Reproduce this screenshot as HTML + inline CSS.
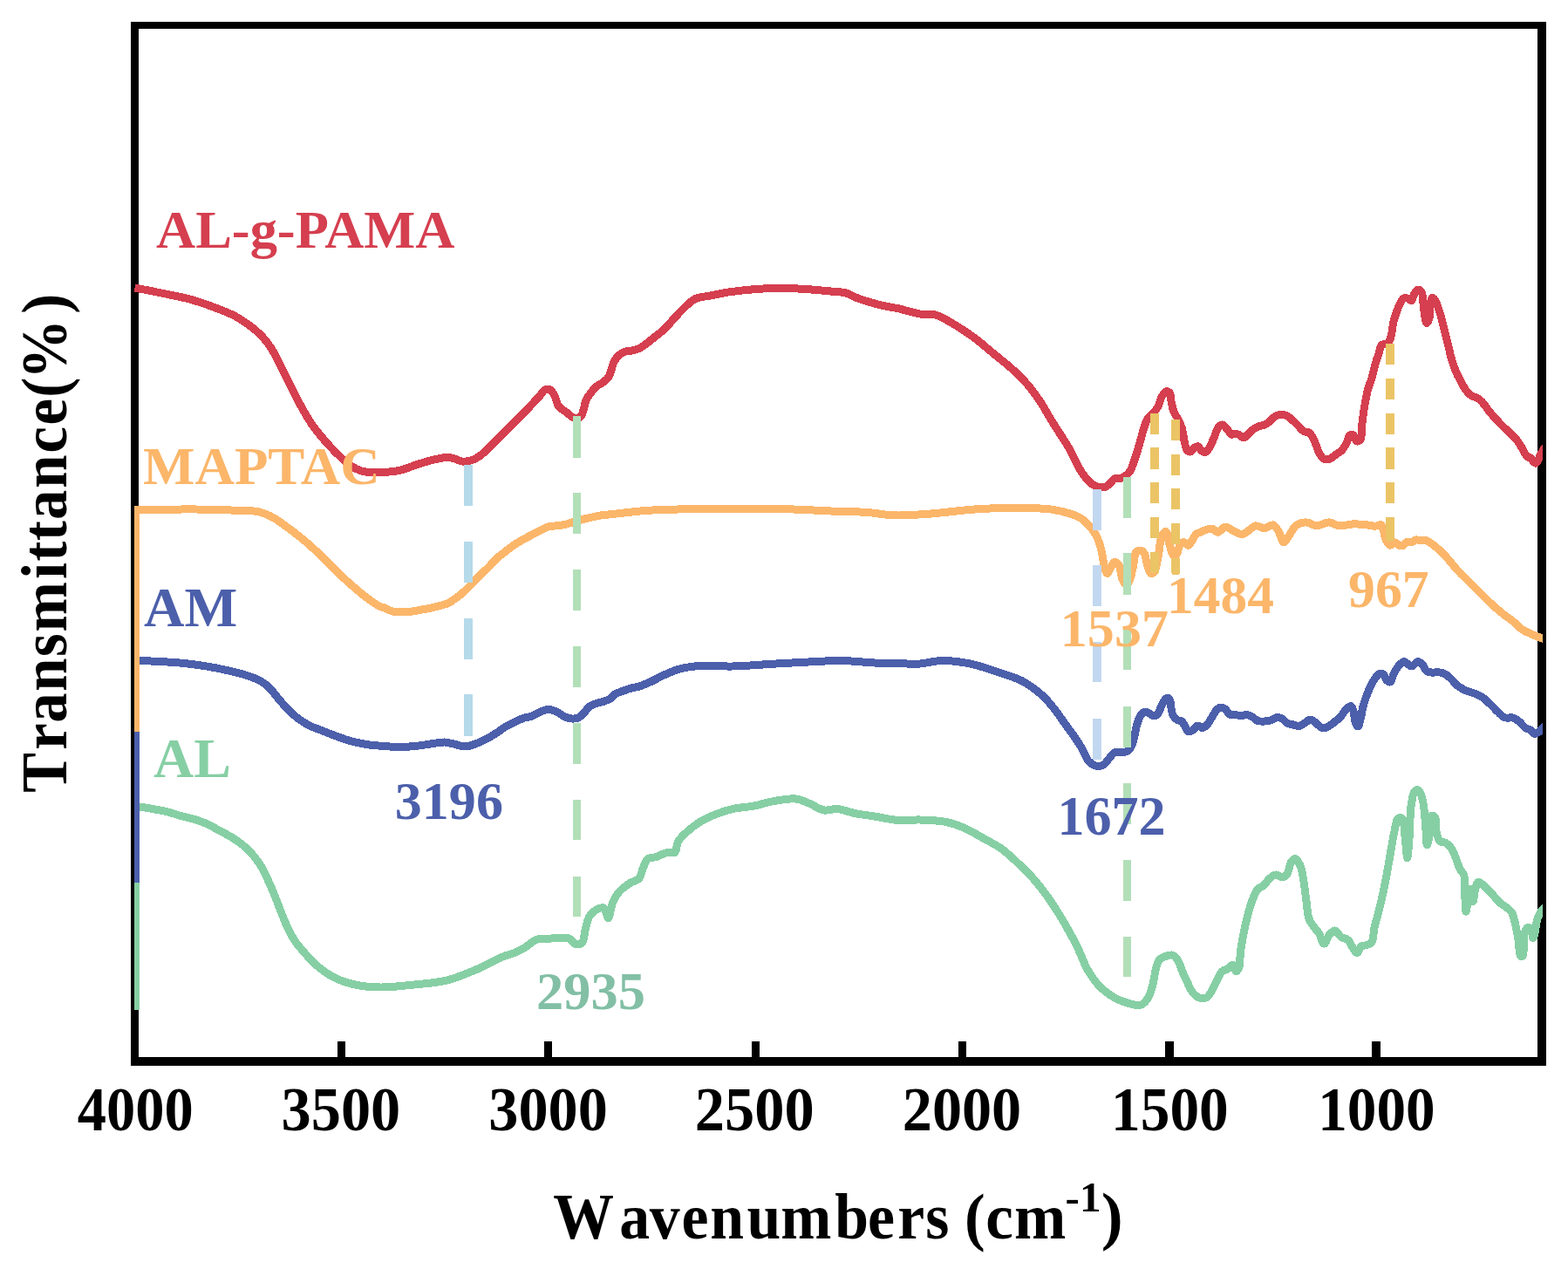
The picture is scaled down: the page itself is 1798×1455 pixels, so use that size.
<!DOCTYPE html>
<html><head><meta charset="utf-8"><title>FTIR spectra</title>
<style>html,body{margin:0;padding:0;background:#fff;width:1798px;height:1455px;overflow:hidden}svg{display:block}</style>
</head><body>
<svg width="1798" height="1455" viewBox="0 0 1798 1455">
<rect width="1798" height="1455" fill="#fff"/>
<defs><clipPath id="cp"><rect x="154" y="29" width="1615" height="1188"/></clipPath></defs>
<g fill="#000" shape-rendering="crispEdges">
<rect x="150" y="25" width="9" height="1197"/>
<rect x="150" y="25" width="1623" height="8"/>
<rect x="1763" y="25" width="10" height="1197"/>
<rect x="150" y="1212" width="1623" height="10"/>
<rect x="387" y="1194" width="9" height="18"/>
<rect x="624" y="1194" width="9" height="18"/>
<rect x="862" y="1194" width="9" height="18"/>
<rect x="1099" y="1194" width="9" height="18"/>
<rect x="1336" y="1194" width="10" height="18"/>
<rect x="1573" y="1194" width="10" height="18"/>
</g>
<g clip-path="url(#cp)" fill="none" stroke-width="9" stroke-linejoin="round" stroke-linecap="butt" shape-rendering="crispEdges">
<path d="M155.6,1158 L155.6,925 L155.60,925.00 C155.60,925.00 157.78,924.86 159.50,925.00 C162.96,925.28 169.75,926.56 175.00,927.50 C180.47,928.48 186.17,929.43 191.70,930.80 C197.28,932.19 202.74,934.26 208.30,935.80 C213.84,937.33 219.49,938.21 225.00,940.00 C230.63,941.83 237.16,944.47 241.70,946.70 C245.02,948.33 247.01,949.95 250.00,951.60 C253.39,953.47 257.37,955.24 261.00,957.30 C264.71,959.40 268.41,961.57 272.00,964.10 C275.75,966.74 279.47,969.55 283.00,972.90 C286.83,976.54 290.87,981.21 294.00,985.30 C296.75,988.90 298.79,992.08 301.00,996.00 C303.48,1000.39 305.73,1005.51 308.00,1010.50 C310.37,1015.72 312.61,1021.09 314.90,1026.70 C317.34,1032.69 319.74,1039.29 322.20,1045.40 C324.58,1051.32 326.73,1057.21 329.40,1062.80 C332.01,1068.27 334.56,1073.48 338.00,1078.60 C341.68,1084.07 346.42,1089.44 351.00,1094.50 C355.56,1099.54 360.40,1104.71 365.40,1108.90 C370.06,1112.80 374.94,1116.19 379.90,1119.00 C384.59,1121.66 388.92,1123.67 394.30,1125.50 C400.68,1127.67 408.65,1129.52 415.90,1130.60 C423.08,1131.67 429.39,1132.06 437.60,1132.00 C448.38,1131.92 462.54,1130.33 475.00,1129.00 C487.51,1127.67 500.17,1127.08 512.50,1124.00 C525.18,1120.83 538.88,1114.84 550.00,1110.00 C559.29,1105.95 567.63,1100.55 575.00,1097.50 C580.54,1095.20 585.30,1094.49 590.00,1092.50 C594.44,1090.62 598.40,1088.45 602.50,1086.00 C606.74,1083.47 610.23,1079.19 615.00,1077.50 C620.14,1075.68 626.47,1076.26 632.50,1076.00 C638.94,1075.72 647.66,1074.20 652.50,1076.00 C655.91,1077.27 657.31,1081.79 660.00,1082.50 C662.36,1083.12 665.67,1082.77 667.50,1081.00 C670.19,1078.40 669.77,1070.21 671.25,1065.00 C672.70,1059.89 673.64,1053.88 676.25,1050.00 C678.48,1046.69 682.00,1043.96 685.00,1042.50 C687.44,1041.31 690.53,1039.97 692.50,1041.00 C695.03,1042.32 695.96,1052.60 697.50,1052.50 C699.35,1052.38 700.24,1040.21 702.50,1035.00 C704.52,1030.34 706.78,1026.19 710.00,1022.50 C713.38,1018.64 718.43,1015.10 722.50,1012.50 C725.90,1010.32 730.03,1010.18 732.50,1007.50 C735.21,1004.56 735.75,998.90 737.50,995.00 C739.10,991.45 739.91,987.08 742.50,985.00 C744.98,983.01 749.02,983.63 752.50,982.50 C756.48,981.21 761.14,978.24 765.00,977.50 C768.11,976.90 771.69,979.04 773.75,977.50 C776.27,975.62 775.34,968.81 777.50,965.00 C779.80,960.93 783.65,957.54 787.50,954.00 C791.84,950.01 797.13,945.82 802.50,942.50 C807.95,939.13 813.88,936.47 820.00,934.00 C826.36,931.44 832.89,929.14 840.00,927.50 C847.80,925.70 857.17,925.52 865.00,924.00 C872.08,922.62 877.76,920.29 885.00,919.00 C893.39,917.50 904.79,915.18 912.50,916.00 C918.33,916.62 922.36,918.98 927.50,921.00 C933.17,923.23 939.26,928.05 945.00,929.00 C950.08,929.84 954.68,927.11 960.00,927.50 C966.22,927.95 973.10,931.10 980.00,932.50 C987.25,933.97 994.63,934.74 1002.50,936.00 C1011.21,937.39 1021.02,939.86 1030.00,940.50 C1038.50,941.11 1046.29,939.73 1055.00,940.00 C1064.55,940.30 1076.10,940.71 1085.00,942.50 C1092.44,944.00 1098.10,946.04 1105.00,949.00 C1113.02,952.43 1122.43,958.29 1130.00,962.50 C1136.38,966.04 1141.85,968.52 1147.50,972.50 C1153.54,976.76 1159.08,982.02 1165.00,987.50 C1171.56,993.57 1178.76,1000.43 1185.00,1007.50 C1191.26,1014.60 1196.85,1021.98 1202.50,1030.00 C1208.54,1038.57 1214.54,1048.24 1220.00,1057.50 C1225.36,1066.58 1230.38,1075.75 1235.00,1085.00 C1239.53,1094.08 1242.64,1104.30 1247.50,1112.50 C1251.92,1119.96 1256.83,1126.96 1262.50,1132.50 C1267.76,1137.64 1274.04,1141.86 1280.00,1145.00 C1285.37,1147.83 1291.42,1149.74 1296.40,1151.00 C1300.37,1152.00 1304.37,1153.31 1307.40,1152.60 C1309.90,1152.01 1311.82,1150.24 1313.60,1148.30 C1315.65,1146.07 1317.21,1142.85 1318.60,1139.60 C1320.18,1135.91 1321.22,1131.63 1322.30,1127.20 C1323.52,1122.21 1324.02,1115.91 1325.40,1111.10 C1326.58,1107.00 1327.43,1102.49 1329.70,1100.00 C1331.59,1097.92 1334.57,1097.12 1337.10,1096.30 C1339.51,1095.52 1342.30,1094.40 1344.50,1095.10 C1346.87,1095.86 1348.96,1098.59 1350.70,1101.20 C1352.86,1104.44 1353.89,1109.39 1355.70,1113.60 C1357.61,1118.05 1359.76,1122.92 1361.90,1127.20 C1363.87,1131.15 1365.37,1135.45 1368.00,1138.40 C1370.40,1141.09 1373.78,1143.83 1376.70,1144.50 C1379.15,1145.06 1381.97,1144.63 1384.10,1143.30 C1386.64,1141.72 1388.35,1137.83 1390.30,1134.60 C1392.52,1130.93 1394.51,1126.03 1396.50,1122.30 C1398.19,1119.13 1399.28,1115.47 1401.40,1113.60 C1403.14,1112.07 1405.61,1112.25 1407.60,1111.10 C1409.76,1109.85 1412.16,1105.83 1413.80,1106.20 C1415.48,1106.57 1416.20,1113.45 1417.50,1113.60 C1418.49,1113.72 1419.81,1111.78 1420.60,1109.90 C1422.16,1106.20 1421.63,1097.76 1422.50,1091.30 C1423.45,1084.21 1424.75,1076.38 1426.20,1069.10 C1427.62,1061.95 1429.33,1054.52 1431.10,1048.00 C1432.66,1042.27 1434.12,1036.92 1436.10,1032.00 C1437.90,1027.53 1439.67,1022.59 1442.30,1019.60 C1444.41,1017.20 1447.47,1016.61 1449.70,1014.60 C1452.02,1012.51 1453.55,1009.18 1455.90,1007.20 C1458.11,1005.34 1460.79,1003.06 1463.30,1002.90 C1465.73,1002.74 1468.51,1006.28 1470.70,1006.00 C1472.69,1005.75 1474.53,1004.05 1476.00,1002.00 C1478.17,998.98 1478.57,991.29 1480.60,988.30 C1481.90,986.39 1483.59,984.32 1485.10,984.50 C1487.11,984.74 1489.63,989.36 1491.20,992.90 C1493.29,997.62 1493.91,1004.60 1495.00,1011.00 C1496.22,1018.12 1496.96,1026.41 1498.00,1033.70 C1498.97,1040.50 1499.16,1048.24 1501.00,1053.40 C1502.33,1057.14 1504.36,1059.59 1506.30,1062.40 C1508.17,1065.11 1510.52,1067.06 1512.40,1070.00 C1514.61,1073.47 1516.33,1082.04 1518.40,1082.10 C1520.37,1082.16 1522.17,1074.13 1524.50,1071.50 C1526.32,1069.44 1528.44,1066.86 1530.50,1067.00 C1532.95,1067.17 1535.39,1072.70 1538.10,1074.50 C1540.46,1076.07 1543.60,1075.90 1545.60,1077.60 C1547.68,1079.37 1548.48,1082.64 1550.20,1085.10 C1552.00,1087.68 1554.40,1092.81 1556.20,1092.70 C1557.92,1092.59 1558.80,1086.58 1560.80,1085.10 C1562.47,1083.87 1564.83,1084.32 1566.80,1083.60 C1568.87,1082.84 1571.41,1082.58 1572.90,1080.60 C1575.25,1077.49 1574.58,1069.94 1575.90,1064.00 C1577.46,1057.00 1579.97,1049.24 1581.90,1041.30 C1584.01,1032.64 1586.07,1023.57 1588.00,1014.00 C1590.12,1003.49 1592.14,991.17 1594.00,980.80 C1595.64,971.66 1596.89,962.62 1598.60,955.00 C1599.98,948.83 1600.65,940.27 1603.10,938.40 C1604.35,937.44 1606.39,937.36 1607.60,938.40 C1610.43,940.82 1610.36,954.79 1611.40,962.60 C1612.37,969.89 1612.95,983.80 1613.70,983.80 C1614.48,983.80 1615.32,969.63 1616.00,961.10 C1616.88,950.11 1616.55,933.29 1618.20,923.30 C1619.31,916.54 1620.33,908.48 1622.80,906.60 C1624.06,905.64 1626.03,905.69 1627.30,906.60 C1629.57,908.24 1630.71,914.76 1631.90,920.30 C1633.62,928.33 1634.10,941.70 1634.90,950.50 C1635.52,957.33 1635.51,968.63 1636.40,968.70 C1637.13,968.76 1638.67,961.23 1639.40,956.60 C1640.36,950.55 1638.56,936.97 1640.90,935.40 C1642.02,934.65 1644.41,935.52 1645.50,936.90 C1647.56,939.49 1645.75,949.00 1647.00,954.00 C1648.04,958.19 1649.43,963.24 1651.70,965.10 C1653.29,966.40 1655.68,965.38 1657.50,966.30 C1659.61,967.37 1661.63,969.28 1663.40,971.60 C1665.66,974.56 1667.47,979.18 1669.20,983.20 C1670.98,987.34 1672.09,992.54 1673.90,996.10 C1675.32,998.89 1677.56,1000.02 1678.60,1003.10 C1680.14,1007.68 1679.34,1015.22 1679.70,1021.80 C1680.11,1029.16 1680.11,1045.14 1680.90,1045.20 C1681.47,1045.24 1682.45,1037.58 1683.20,1033.50 C1684.02,1029.05 1684.62,1019.54 1685.60,1019.50 C1686.59,1019.46 1688.12,1033.53 1689.10,1033.50 C1690.04,1033.47 1690.33,1024.50 1691.40,1020.60 C1692.33,1017.20 1693.08,1011.94 1694.90,1011.30 C1696.41,1010.77 1698.72,1013.18 1700.80,1014.80 C1703.68,1017.04 1707.04,1020.85 1710.10,1024.10 C1713.28,1027.47 1716.32,1031.83 1719.50,1034.70 C1722.17,1037.10 1725.18,1038.47 1727.60,1040.50 C1729.80,1042.35 1731.98,1043.85 1733.50,1046.30 C1735.27,1049.14 1735.94,1052.89 1737.00,1056.90 C1738.34,1061.97 1739.39,1068.21 1740.50,1074.40 C1741.74,1081.35 1742.02,1095.60 1744.00,1096.60 C1744.67,1096.94 1745.70,1096.33 1746.30,1095.40 C1748.02,1092.74 1746.40,1080.14 1747.50,1074.40 C1748.30,1070.24 1749.11,1064.96 1751.00,1063.90 C1752.25,1063.20 1754.56,1063.84 1755.70,1065.00 C1757.42,1066.74 1757.16,1075.57 1758.00,1075.60 C1758.74,1075.63 1759.68,1070.46 1760.40,1067.40 C1761.29,1063.61 1761.58,1058.26 1762.70,1054.50 C1763.63,1051.40 1765.04,1048.42 1766.20,1046.30 C1767.00,1044.84 1767.65,1043.84 1768.60,1042.80 C1769.57,1041.74 1772.00,1040.00 1772.00,1040.00" stroke="#86CFA4"/>
<path d="M155.6,1012 L155.6,757.5 L155.60,757.50 C155.60,757.50 157.52,757.45 159.50,757.50 C165.90,757.66 188.87,758.67 200.00,759.50 C207.84,760.09 213.34,760.67 220.00,761.50 C226.68,762.33 233.35,763.34 240.00,764.50 C246.68,765.67 253.35,767.00 260.00,768.50 C266.68,770.00 273.86,771.61 280.00,773.50 C285.41,775.16 290.59,776.89 295.00,779.00 C298.77,780.80 302.08,782.72 305.00,785.00 C307.69,787.10 309.66,789.39 312.00,792.00 C314.66,794.97 317.13,798.63 320.00,802.00 C323.09,805.63 326.43,809.41 330.00,813.00 C333.74,816.75 337.76,820.80 342.00,824.00 C346.11,827.10 350.41,829.69 355.00,832.00 C359.73,834.38 365.51,836.20 370.00,838.00 C373.67,839.47 376.08,840.53 380.00,842.00 C385.50,844.06 393.28,847.07 400.00,849.00 C406.61,850.89 413.30,852.42 420.00,853.50 C426.63,854.57 433.33,855.00 440.00,855.50 C446.66,856.00 453.34,856.58 460.00,856.50 C466.67,856.42 473.35,855.75 480.00,855.00 C486.68,854.25 494.47,852.69 500.00,852.00 C503.90,851.51 506.68,850.84 510.00,851.00 C513.35,851.16 516.39,852.25 520.00,853.00 C524.28,853.89 529.63,856.12 534.00,856.00 C537.90,855.89 541.11,854.42 545.00,853.00 C549.68,851.28 555.56,848.36 560.00,846.00 C563.73,844.02 566.70,842.14 570.00,840.00 C573.37,837.81 576.59,835.03 580.00,833.00 C583.26,831.06 586.65,829.59 590.00,828.00 C593.32,826.43 596.61,824.67 600.00,823.50 C603.28,822.36 606.73,822.21 610.00,821.00 C613.40,819.74 616.69,817.27 620.00,816.00 C623.02,814.84 626.00,813.50 629.00,813.50 C632.00,813.50 635.01,814.71 638.00,816.00 C641.34,817.44 644.75,820.66 648.00,822.00 C650.73,823.13 653.41,823.87 656.00,824.00 C658.40,824.12 660.80,824.00 663.00,823.00 C665.51,821.86 667.83,819.17 670.00,817.00 C672.17,814.83 673.62,811.76 676.00,810.00 C678.31,808.29 681.22,807.49 684.00,806.50 C686.88,805.48 690.22,804.98 693.00,804.00 C695.51,803.12 697.97,802.37 700.00,801.00 C701.95,799.68 702.87,797.40 705.00,796.00 C707.63,794.27 711.74,793.20 715.00,792.00 C718.06,790.88 720.98,789.84 724.00,789.00 C726.98,788.17 729.73,788.02 733.00,787.00 C737.14,785.70 742.03,783.52 746.70,781.40 C751.77,779.10 757.05,775.95 762.30,773.60 C767.45,771.29 772.63,768.96 777.90,767.40 C783.03,765.88 788.20,764.95 793.50,764.30 C798.90,763.64 803.68,763.60 810.00,763.50 C818.51,763.36 828.74,764.24 840.00,764.00 C854.55,763.69 874.53,761.88 890.00,761.00 C903.40,760.24 915.00,759.58 927.50,759.00 C940.00,758.42 952.50,757.33 965.00,757.50 C977.50,757.67 990.04,759.42 1002.50,760.00 C1014.87,760.58 1029.81,760.87 1039.50,761.00 C1045.77,761.08 1049.23,761.40 1055.00,761.00 C1062.36,760.49 1071.11,757.64 1080.00,757.50 C1090.11,757.34 1101.98,758.87 1112.50,761.00 C1122.80,763.08 1132.55,766.69 1142.50,770.00 C1152.55,773.35 1163.77,776.44 1172.50,781.00 C1180.13,784.98 1187.55,790.93 1192.50,795.00 C1195.73,797.65 1197.34,799.34 1200.00,802.20 C1203.44,805.90 1207.48,810.89 1211.10,815.60 C1214.89,820.54 1218.48,826.02 1222.20,831.20 C1225.92,836.38 1229.97,841.56 1233.40,846.70 C1236.64,851.55 1239.77,856.63 1242.30,861.20 C1244.45,865.10 1245.16,869.42 1247.80,872.30 C1250.37,875.10 1254.57,877.84 1257.80,878.40 C1260.47,878.87 1263.30,878.15 1265.60,876.80 C1268.22,875.26 1270.15,871.42 1272.30,869.00 C1274.23,866.82 1275.54,863.93 1277.90,862.90 C1280.34,861.83 1283.98,863.40 1286.80,862.90 C1289.50,862.42 1292.51,861.87 1294.50,860.10 C1296.70,858.15 1297.65,854.90 1299.00,851.20 C1300.99,845.73 1302.20,835.70 1304.00,830.00 C1305.27,825.99 1306.20,822.43 1308.00,820.00 C1309.39,818.13 1311.25,816.26 1313.00,816.00 C1314.60,815.76 1316.37,817.19 1318.00,818.00 C1319.70,818.84 1321.33,821.00 1323.00,821.00 C1324.67,821.00 1326.61,819.57 1328.00,818.00 C1329.80,815.96 1330.43,811.90 1332.00,809.00 C1333.59,806.06 1335.60,801.21 1337.50,800.50 C1338.64,800.07 1340.12,800.54 1341.00,801.50 C1342.51,803.15 1342.28,808.75 1343.00,812.00 C1343.63,814.86 1343.77,817.71 1345.00,820.00 C1346.16,822.17 1348.16,824.34 1350.00,825.50 C1351.54,826.47 1353.58,825.95 1355.00,827.00 C1356.67,828.24 1357.67,831.00 1359.00,833.00 C1360.33,835.00 1361.35,838.49 1363.00,839.00 C1364.43,839.44 1366.43,838.03 1368.00,837.00 C1369.80,835.82 1371.12,832.37 1373.00,832.00 C1374.80,831.64 1377.14,834.70 1379.00,834.50 C1380.80,834.30 1382.40,832.63 1384.00,831.00 C1386.12,828.83 1388.11,824.93 1390.00,822.00 C1391.76,819.27 1393.08,815.89 1395.00,814.00 C1396.51,812.52 1398.30,811.14 1400.00,811.00 C1401.63,810.87 1403.46,811.88 1405.00,813.00 C1406.85,814.35 1408.01,817.96 1410.00,819.00 C1411.75,819.91 1413.93,819.27 1416.00,819.50 C1418.25,819.75 1420.67,820.50 1423.00,820.50 C1425.33,820.50 1427.79,819.22 1430.00,819.50 C1432.12,819.77 1434.07,820.90 1436.00,822.00 C1438.08,823.19 1439.72,825.66 1442.00,826.50 C1444.36,827.37 1447.43,827.10 1450.00,827.00 C1452.42,826.90 1454.72,826.71 1457.00,826.00 C1459.40,825.25 1461.71,822.75 1464.00,822.50 C1466.03,822.28 1468.10,823.04 1470.00,824.00 C1472.13,825.08 1473.79,827.83 1476.00,829.00 C1478.14,830.13 1480.66,830.41 1483.00,831.00 C1485.32,831.58 1487.82,832.85 1490.00,832.50 C1492.15,832.16 1493.92,830.20 1496.00,829.00 C1498.24,827.71 1500.70,824.88 1503.00,825.00 C1505.37,825.12 1507.67,828.33 1510.00,830.00 C1512.33,831.67 1514.67,834.65 1517.00,835.00 C1519.00,835.30 1521.00,834.02 1523.00,833.00 C1525.33,831.81 1527.71,829.80 1530.00,828.00 C1532.38,826.14 1534.87,824.27 1537.00,822.00 C1539.22,819.63 1540.83,816.17 1543.00,814.00 C1544.88,812.12 1547.47,809.17 1549.00,809.50 C1550.40,809.80 1551.22,812.69 1552.00,815.00 C1553.13,818.34 1552.83,824.77 1554.00,828.00 C1554.78,830.15 1556.08,833.08 1557.00,833.00 C1558.12,832.90 1559.11,828.12 1560.00,825.00 C1561.19,820.82 1561.76,814.69 1563.00,810.00 C1564.13,805.74 1565.61,801.80 1567.00,798.00 C1568.28,794.50 1569.48,791.20 1571.00,788.00 C1572.49,784.87 1574.08,781.66 1576.00,779.00 C1577.78,776.54 1580.01,773.23 1582.00,772.50 C1583.34,772.01 1584.83,772.22 1586.00,773.00 C1587.66,774.10 1588.40,778.49 1590.00,780.00 C1591.19,781.12 1592.84,782.42 1594.00,782.00 C1595.72,781.38 1596.50,775.92 1598.00,773.00 C1599.50,770.08 1600.95,766.94 1603.00,764.50 C1604.98,762.14 1607.82,758.61 1610.00,758.50 C1611.77,758.41 1613.39,761.04 1615.00,762.00 C1616.38,762.82 1617.58,764.17 1619.00,764.00 C1620.93,763.77 1623.20,758.95 1625.30,758.70 C1627.10,758.49 1629.08,759.96 1630.70,761.40 C1632.75,763.21 1633.82,767.82 1636.00,769.40 C1637.79,770.69 1640.04,770.87 1642.20,771.10 C1644.49,771.34 1646.96,770.44 1649.40,770.70 C1652.02,770.98 1654.95,771.58 1657.40,772.90 C1660.01,774.30 1662.17,776.91 1664.50,779.10 C1666.91,781.37 1668.95,784.23 1671.60,786.30 C1674.28,788.40 1677.31,790.14 1680.50,791.60 C1683.83,793.13 1687.84,793.81 1691.20,795.20 C1694.35,796.50 1697.26,797.67 1700.10,799.60 C1703.22,801.71 1706.07,804.82 1709.00,807.60 C1712.01,810.45 1715.06,813.84 1717.90,816.50 C1720.36,818.80 1722.16,821.56 1725.00,822.70 C1728.03,823.92 1732.62,822.16 1735.70,823.20 C1738.46,824.13 1740.52,826.20 1742.80,828.10 C1745.26,830.15 1747.53,833.73 1749.90,835.20 C1751.67,836.30 1753.60,836.02 1755.20,837.00 C1756.89,838.04 1758.10,841.09 1759.70,841.40 C1761.09,841.67 1762.78,840.46 1764.10,839.60 C1765.46,838.71 1766.44,837.31 1767.70,836.10 C1769.07,834.78 1772.00,832.00 1772.00,832.00" stroke="#4C5FAB"/>
<path d="M155.6,838.5 L155.6,584.5 L155.60,584.50 C155.60,584.50 157.41,584.51 159.50,584.50 C168.07,584.47 205.85,583.83 225.00,584.00 C239.97,584.13 254.87,584.70 265.00,585.00 C271.20,585.18 275.00,585.25 280.00,585.50 C285.00,585.75 290.55,585.69 295.00,586.50 C298.71,587.17 301.72,588.20 305.00,589.50 C308.39,590.85 311.41,592.36 315.00,594.50 C319.59,597.23 325.04,601.36 330.00,605.00 C335.04,608.69 340.06,612.47 345.00,616.50 C350.06,620.63 355.06,624.98 360.00,629.50 C365.06,634.14 370.02,639.10 375.00,644.00 C380.02,648.94 384.94,654.20 390.00,659.00 C394.94,663.69 399.96,668.13 405.00,672.50 C409.96,676.80 414.90,681.19 420.00,685.00 C424.90,688.66 431.25,693.15 435.00,695.00 C437.03,696.00 438.02,695.96 440.00,696.70 C442.98,697.81 447.33,700.38 451.10,701.20 C454.73,701.99 458.49,701.75 462.20,701.70 C465.93,701.65 469.69,701.37 473.40,700.90 C477.12,700.43 480.80,699.60 484.50,698.90 C488.20,698.20 491.91,697.53 495.60,696.70 C499.31,695.86 503.27,694.90 506.70,693.90 C509.71,693.02 512.67,692.31 515.10,691.10 C517.21,690.05 518.54,688.79 520.60,687.30 C523.33,685.32 526.90,682.86 530.00,680.20 C533.37,677.31 536.70,673.83 540.00,670.50 C543.37,667.10 546.62,663.37 550.00,660.00 C553.29,656.71 556.71,653.79 560.00,650.50 C563.38,647.13 566.56,643.16 570.00,640.00 C573.24,637.03 576.65,634.60 580.00,632.00 C583.31,629.43 586.61,626.78 590.00,624.50 C593.28,622.30 596.64,620.40 600.00,618.50 C603.31,616.63 606.66,614.95 610.00,613.20 C613.33,611.45 616.64,609.63 620.00,608.00 C623.31,606.40 626.59,604.36 630.00,603.50 C633.26,602.68 636.68,603.25 640.00,602.80 C643.35,602.35 646.69,601.63 650.00,600.80 C653.35,599.96 656.66,598.77 660.00,597.80 C663.33,596.83 666.65,595.84 670.00,595.00 C673.32,594.17 676.66,593.50 680.00,592.80 C683.33,592.10 686.65,591.30 690.00,590.80 C693.32,590.30 695.56,590.26 700.00,589.80 C708.89,588.88 726.87,586.47 740.00,585.50 C752.69,584.57 763.41,584.28 777.50,584.00 C795.68,583.64 818.58,584.00 840.00,584.00 C862.67,584.00 889.57,583.52 910.00,584.00 C925.93,584.37 938.33,585.42 952.50,586.00 C966.66,586.58 983.49,586.58 995.00,587.50 C1002.93,588.13 1008.80,589.41 1015.00,590.00 C1020.35,590.51 1023.87,590.96 1030.00,591.00 C1039.68,591.06 1054.12,590.03 1067.50,589.00 C1082.98,587.81 1102.01,585.08 1117.50,584.00 C1130.88,583.06 1141.60,582.57 1155.00,582.50 C1170.47,582.42 1191.27,582.19 1205.00,584.00 C1214.84,585.30 1223.72,587.76 1230.00,589.90 C1234.00,591.26 1236.49,592.23 1239.50,594.20 C1242.82,596.38 1246.08,599.57 1248.90,602.70 C1251.75,605.86 1254.44,609.43 1256.50,613.10 C1258.51,616.68 1259.95,620.50 1261.20,624.40 C1262.46,628.36 1263.10,632.37 1264.00,636.70 C1265.00,641.49 1265.63,648.14 1266.90,651.90 C1267.71,654.29 1268.66,657.47 1269.70,657.50 C1270.84,657.53 1272.11,653.07 1273.50,650.90 C1274.93,648.66 1276.49,644.54 1278.20,644.30 C1279.69,644.09 1281.72,646.10 1283.00,648.10 C1285.04,651.28 1285.20,659.42 1286.70,663.20 C1287.68,665.67 1288.57,668.39 1290.00,669.00 C1291.13,669.48 1292.93,668.96 1294.00,668.00 C1295.54,666.62 1296.10,663.07 1297.00,660.00 C1298.16,656.06 1299.02,650.75 1300.00,646.20 C1300.96,641.75 1300.86,635.31 1302.80,633.00 C1303.99,631.58 1305.98,630.89 1307.50,631.10 C1309.16,631.33 1311.09,632.94 1312.30,634.80 C1313.99,637.39 1313.87,642.45 1315.10,646.20 C1316.36,650.02 1317.87,656.78 1319.80,657.50 C1320.94,657.92 1322.50,656.97 1323.60,655.60 C1325.95,652.67 1326.92,643.24 1328.30,636.70 C1329.77,629.74 1329.92,619.73 1332.10,615.00 C1333.36,612.26 1335.50,609.03 1336.80,609.30 C1338.57,609.67 1339.20,618.04 1340.60,622.50 C1342.06,627.16 1343.24,635.51 1345.40,636.70 C1346.49,637.30 1348.05,636.74 1349.10,635.80 C1350.89,634.20 1351.14,627.86 1352.90,625.40 C1354.20,623.58 1356.02,621.61 1357.60,621.60 C1359.19,621.59 1360.88,625.56 1362.40,625.40 C1364.07,625.22 1365.60,621.79 1367.10,619.70 C1368.75,617.40 1369.92,613.64 1371.80,612.10 C1373.22,610.93 1374.88,611.00 1376.60,610.30 C1378.64,609.47 1380.88,608.03 1383.20,607.40 C1385.57,606.75 1388.46,605.97 1390.70,606.50 C1392.83,607.01 1394.32,610.35 1396.40,610.30 C1398.99,610.24 1401.94,604.26 1405.00,604.00 C1408.13,603.74 1411.62,607.57 1415.00,609.00 C1418.29,610.39 1421.44,612.92 1425.00,612.50 C1429.62,611.96 1435.36,603.57 1440.00,602.90 C1443.55,602.39 1446.70,605.95 1450.00,605.80 C1453.34,605.64 1457.19,601.24 1459.90,601.90 C1462.41,602.51 1464.08,605.98 1465.90,608.80 C1468.18,612.32 1469.63,621.48 1471.90,621.80 C1473.72,622.05 1475.85,617.51 1477.90,614.80 C1480.45,611.42 1482.33,605.55 1485.80,602.90 C1489.06,600.40 1493.80,598.90 1497.80,598.90 C1501.80,598.90 1505.64,602.81 1509.80,602.90 C1514.25,602.99 1519.25,598.81 1523.70,598.90 C1527.86,598.99 1531.37,602.47 1535.70,602.90 C1540.58,603.38 1546.28,601.07 1551.60,600.90 C1556.92,600.73 1562.99,601.43 1567.60,601.90 C1571.13,602.26 1574.05,603.27 1576.90,603.20 C1579.35,603.14 1582.10,601.04 1583.70,601.90 C1585.35,602.79 1585.65,606.17 1586.50,608.70 C1587.52,611.75 1587.76,616.12 1589.20,619.00 C1590.44,621.48 1592.26,624.88 1594.10,625.20 C1595.76,625.49 1597.85,621.75 1599.60,621.80 C1601.27,621.85 1602.79,624.53 1604.40,625.20 C1605.76,625.76 1607.23,626.30 1608.50,625.90 C1610.00,625.42 1610.97,622.47 1612.60,621.80 C1614.19,621.14 1616.32,622.23 1618.10,621.80 C1619.99,621.35 1621.64,619.36 1623.60,619.00 C1625.60,618.63 1627.96,619.57 1630.00,619.70 C1631.85,619.82 1633.28,619.17 1635.30,619.80 C1638.62,620.84 1643.45,624.65 1647.30,627.80 C1651.47,631.21 1655.40,635.48 1659.30,639.70 C1663.37,644.10 1666.71,648.85 1671.20,653.70 C1676.48,659.41 1683.22,665.62 1689.20,671.60 C1695.18,677.58 1701.21,684.08 1707.10,689.60 C1712.47,694.63 1718.00,699.45 1723.00,703.50 C1727.21,706.91 1731.25,709.41 1735.00,712.50 C1738.55,715.42 1741.34,719.01 1745.00,721.50 C1748.64,723.97 1753.07,725.69 1756.90,727.40 C1760.35,728.94 1764.11,730.40 1766.90,731.40 C1768.87,732.10 1772.00,733.00 1772.00,733.00" stroke="#FBB66A"/>
<path d="M154.50,330.00 C154.50,330.00 170.56,333.04 180.00,335.00 C191.85,337.46 207.22,340.13 220.00,343.75 C232.16,347.20 245.83,352.35 255.00,356.00 C261.11,358.43 265.09,360.03 270.00,362.70 C275.14,365.49 280.17,368.83 285.10,372.50 C290.28,376.36 295.91,380.80 300.30,385.40 C304.38,389.67 307.60,394.11 310.80,399.00 C314.16,404.14 317.05,410.16 319.90,415.60 C322.60,420.75 324.98,425.74 327.50,430.80 C330.01,435.84 332.49,440.87 335.00,445.90 C337.52,450.94 340.01,456.13 342.60,461.00 C345.08,465.68 347.62,470.23 350.20,474.60 C352.66,478.78 354.86,482.63 357.70,486.70 C360.82,491.18 364.70,495.95 368.30,500.30 C371.77,504.50 375.18,508.43 378.90,512.40 C382.74,516.50 387.03,520.82 391.00,524.50 C394.59,527.82 397.78,531.05 401.60,533.60 C405.36,536.11 409.32,538.32 413.70,539.70 C418.35,541.17 423.33,541.67 428.80,541.90 C435.26,542.17 444.26,541.23 450.00,540.60 C453.96,540.16 456.15,539.97 460.00,539.00 C465.58,537.59 473.30,534.09 480.00,532.00 C486.63,529.93 494.15,527.79 500.00,526.50 C504.48,525.51 508.40,524.57 512.00,524.50 C514.93,524.44 517.22,524.85 520.00,525.50 C523.19,526.25 526.62,528.60 530.00,529.00 C533.29,529.39 536.75,528.94 540.00,528.00 C543.43,527.01 546.81,525.18 550.00,523.00 C553.50,520.61 556.71,517.12 560.00,514.00 C563.38,510.80 566.67,507.33 570.00,504.00 C573.33,500.67 576.67,497.33 580.00,494.00 C583.33,490.67 586.67,487.33 590.00,484.00 C593.33,480.67 596.69,477.39 600.00,474.00 C603.35,470.56 606.86,466.82 610.00,463.50 C612.82,460.52 615.45,457.81 618.00,455.00 C620.44,452.32 622.48,448.14 625.00,447.00 C626.89,446.14 629.28,446.11 631.00,447.00 C633.06,448.06 634.58,451.29 636.00,454.00 C637.66,457.16 638.32,462.36 640.00,465.00 C641.17,466.83 642.46,467.74 644.00,469.00 C645.74,470.42 648.04,471.54 650.00,473.00 C652.04,474.52 653.98,476.91 656.00,478.00 C657.65,478.89 659.35,479.57 661.00,479.50 C662.68,479.43 664.72,478.78 666.00,477.50 C667.57,475.93 668.07,472.77 669.00,470.00 C670.10,466.71 670.56,462.28 672.00,459.00 C673.31,456.01 675.08,453.59 677.00,451.00 C679.04,448.25 681.41,445.20 684.00,443.00 C686.44,440.92 689.62,439.89 692.00,438.00 C694.26,436.20 696.50,434.33 698.00,432.00 C699.50,429.66 700.02,426.75 701.00,424.00 C702.03,421.10 702.62,417.72 704.00,415.00 C705.32,412.41 706.98,409.93 709.00,408.00 C710.99,406.11 713.41,404.50 716.00,403.50 C718.72,402.45 722.11,402.69 725.00,402.00 C727.77,401.34 730.50,400.67 733.00,399.50 C735.49,398.33 737.51,396.79 740.00,395.00 C743.09,392.78 746.67,389.67 750.00,387.00 C753.33,384.33 757.29,381.42 760.00,379.00 C762.01,377.20 762.86,376.23 765.00,374.00 C769.10,369.73 776.71,360.51 782.50,355.00 C787.53,350.21 791.94,345.16 797.50,342.50 C802.82,339.96 808.97,340.21 815.00,339.00 C821.44,337.71 827.16,336.17 835.00,335.00 C846.01,333.35 861.65,331.67 875.00,331.00 C888.32,330.34 901.89,330.48 915.00,331.00 C927.71,331.51 942.36,333.02 952.50,334.00 C959.44,334.67 964.49,334.53 970.00,336.00 C975.30,337.42 979.06,340.38 985.00,342.50 C993.21,345.43 1006.68,349.06 1015.00,351.00 C1020.82,352.35 1024.39,352.54 1030.00,353.75 C1037.30,355.33 1047.36,358.84 1055.00,360.00 C1061.30,360.96 1066.48,359.37 1072.50,361.00 C1079.73,362.96 1087.62,368.18 1095.00,372.50 C1102.63,376.97 1110.13,382.04 1117.50,387.50 C1125.14,393.17 1132.72,400.01 1140.00,406.00 C1146.87,411.65 1153.69,416.76 1160.00,422.50 C1166.17,428.11 1172.09,433.77 1177.50,440.00 C1182.93,446.26 1187.68,452.83 1192.50,460.00 C1197.71,467.74 1202.25,476.50 1207.50,485.00 C1213.05,493.98 1219.57,503.14 1225.00,512.50 C1230.40,521.81 1235.91,534.53 1240.00,541.00 C1242.28,544.61 1243.91,546.59 1246.00,549.00 C1247.92,551.22 1249.69,553.42 1252.00,555.00 C1254.35,556.60 1257.37,557.95 1260.00,558.50 C1262.36,558.99 1264.86,559.21 1267.00,558.50 C1269.21,557.76 1271.14,555.61 1273.00,554.00 C1274.80,552.44 1275.99,549.92 1278.00,549.00 C1280.00,548.09 1282.91,549.07 1285.00,548.50 C1286.86,547.99 1288.35,547.19 1290.00,546.00 C1292.03,544.54 1294.38,542.45 1296.00,540.00 C1297.82,537.24 1298.72,533.50 1300.00,530.00 C1301.39,526.20 1302.71,522.17 1304.00,518.00 C1305.38,513.53 1306.67,508.67 1308.00,504.00 C1309.33,499.33 1310.55,494.24 1312.00,490.00 C1313.25,486.35 1314.10,482.87 1316.00,480.00 C1317.82,477.24 1320.95,475.42 1323.00,473.00 C1324.91,470.74 1326.58,468.71 1328.00,466.00 C1329.66,462.84 1330.28,458.00 1332.00,455.00 C1333.41,452.55 1335.24,449.58 1337.00,449.00 C1338.28,448.58 1340.02,448.97 1341.00,450.00 C1342.54,451.62 1342.22,456.52 1343.00,460.00 C1343.86,463.83 1344.57,468.37 1346.00,472.00 C1347.31,475.31 1349.49,477.97 1351.00,481.00 C1352.48,483.97 1353.90,486.55 1355.00,490.00 C1356.37,494.30 1356.92,500.40 1358.00,505.00 C1358.94,508.97 1359.31,513.93 1361.00,516.00 C1362.06,517.29 1363.67,518.22 1365.00,518.00 C1366.67,517.73 1368.29,513.97 1370.00,513.00 C1371.31,512.26 1372.78,511.59 1374.00,512.00 C1375.52,512.51 1376.50,515.91 1378.00,517.00 C1379.22,517.89 1380.70,518.81 1382.00,518.50 C1383.72,518.08 1385.49,515.29 1387.00,513.00 C1388.92,510.08 1390.36,505.76 1392.00,502.00 C1393.70,498.10 1394.84,492.50 1397.00,490.00 C1398.45,488.33 1400.41,486.80 1402.00,487.00 C1403.76,487.22 1405.37,490.22 1407.00,492.00 C1408.71,493.87 1410.57,497.33 1412.00,498.00 C1412.73,498.34 1413.15,498.00 1414.00,498.00 C1415.46,498.00 1418.08,497.42 1420.00,498.00 C1422.10,498.64 1424.04,502.10 1426.00,502.00 C1428.04,501.89 1430.02,498.73 1432.00,497.00 C1434.02,495.23 1435.99,492.88 1438.00,491.50 C1439.66,490.36 1441.16,489.72 1443.00,489.00 C1445.10,488.18 1447.92,487.90 1450.00,487.00 C1451.87,486.19 1453.26,485.30 1455.00,484.00 C1457.22,482.33 1459.60,478.92 1462.00,477.50 C1463.95,476.34 1465.97,475.74 1468.00,475.50 C1469.98,475.26 1472.08,475.33 1474.00,476.00 C1476.10,476.73 1477.93,478.36 1480.00,480.00 C1482.56,482.03 1485.44,485.02 1488.00,487.50 C1490.43,489.85 1492.56,493.12 1495.00,494.50 C1496.93,495.59 1499.34,494.94 1501.00,496.00 C1502.69,497.08 1503.78,499.00 1505.00,501.00 C1506.51,503.48 1507.70,506.91 1509.00,510.00 C1510.36,513.23 1511.33,517.20 1513.00,520.00 C1514.42,522.39 1515.92,525.03 1518.00,526.00 C1519.97,526.92 1522.78,526.71 1525.00,526.00 C1527.47,525.21 1529.67,522.67 1532.00,521.00 C1534.33,519.33 1537.03,518.10 1539.00,516.00 C1541.06,513.80 1542.51,510.80 1544.00,508.00 C1545.52,505.14 1546.20,500.17 1548.00,499.00 C1549.15,498.26 1550.83,498.32 1552.00,499.00 C1553.66,499.96 1554.40,505.52 1556.00,506.00 C1557.19,506.36 1559.00,505.45 1560.00,504.00 C1562.07,501.01 1561.20,491.48 1562.00,485.00 C1562.85,478.17 1563.80,470.81 1565.00,464.00 C1566.15,457.49 1567.45,450.51 1569.00,445.00 C1570.23,440.61 1571.83,437.64 1573.10,433.40 C1574.60,428.42 1575.73,421.98 1577.20,416.90 C1578.49,412.45 1580.02,408.32 1581.30,404.50 C1582.40,401.20 1582.52,396.92 1584.40,395.30 C1585.92,394.00 1588.94,395.37 1590.60,394.20 C1592.50,392.86 1593.60,390.04 1594.70,387.00 C1596.31,382.54 1596.60,374.53 1597.80,369.50 C1598.73,365.58 1599.70,362.61 1600.90,359.20 C1602.12,355.74 1603.58,351.91 1605.10,348.90 C1606.38,346.37 1607.42,343.20 1609.20,342.20 C1610.63,341.40 1612.74,341.77 1614.30,342.20 C1615.83,342.62 1617.37,345.07 1618.50,344.70 C1619.93,344.23 1620.23,339.61 1621.50,337.50 C1622.67,335.56 1624.17,332.73 1625.70,332.40 C1626.97,332.12 1628.79,333.05 1629.80,334.40 C1631.48,336.64 1631.26,342.36 1631.90,346.80 C1632.64,351.90 1633.01,358.95 1633.90,363.30 C1634.50,366.22 1635.11,370.42 1636.00,370.50 C1636.86,370.58 1638.39,366.92 1639.10,364.30 C1640.16,360.39 1639.38,353.05 1640.10,348.90 C1640.61,345.99 1641.05,342.02 1642.20,341.60 C1643.01,341.31 1644.40,342.61 1645.30,343.70 C1646.61,345.28 1647.36,348.15 1648.40,350.90 C1649.75,354.45 1651.21,358.85 1652.50,363.30 C1653.97,368.38 1655.23,374.30 1656.60,379.80 C1657.97,385.30 1659.33,390.80 1660.70,396.30 C1662.07,401.80 1663.20,407.53 1664.80,412.80 C1666.32,417.80 1668.13,422.85 1670.00,427.20 C1671.63,430.97 1673.34,434.10 1675.20,437.50 C1677.10,440.97 1679.06,444.92 1681.30,447.80 C1683.22,450.27 1685.26,452.61 1687.50,454.00 C1689.44,455.20 1691.80,455.07 1693.70,456.10 C1695.61,457.13 1697.01,458.29 1698.90,460.20 C1701.90,463.23 1705.65,469.26 1709.10,473.40 C1712.35,477.30 1715.64,480.88 1719.00,484.40 C1722.28,487.84 1725.67,490.99 1729.00,494.30 C1732.34,497.62 1736.22,500.91 1739.00,504.30 C1741.43,507.26 1743.03,510.21 1745.00,513.30 C1747.04,516.50 1748.91,521.27 1751.00,523.20 C1752.30,524.40 1753.62,524.20 1755.00,525.20 C1756.89,526.57 1759.08,531.45 1760.90,531.20 C1763.11,530.89 1764.94,523.66 1766.90,520.30 C1768.63,517.32 1772.00,512.00 1772.00,512.00" stroke="#D53F4F"/>
</g>
<g shape-rendering="crispEdges">
<path d="M532,533.00H542V579.50H532ZM532,620.75H542V667.50H532ZM532,709.00H542V755.50H532ZM532,796.00H542V843.50H532Z" fill="#B5DAEA"/>
<path d="M657,476.75H666V524.50H657ZM657,565.00H666V611.75H657ZM657,653.00H666V699.50H657ZM657,740.75H666V787.50H657ZM657,829.00H666V875.50H657ZM657,917.00H666V963.00H657ZM657,1005.00H666V1051.00H657Z" fill="#B2DFB8"/>
<path d="M1253,560.75H1263V607.90H1253ZM1253,648.00H1263V695.00H1253ZM1253,736.00H1263V782.00H1253ZM1253,824.00H1263V870.70H1253Z" fill="#C2D7F0"/>
<path d="M1288,547.00H1297V593.70H1288ZM1288,634.20H1297V681.75H1288ZM1288,722.00H1297V768.00H1288ZM1288,810.00H1297V856.80H1288ZM1288,898.00H1297V944.80H1288ZM1288,986.00H1297V1032.50H1288ZM1288,1073.75H1297V1120.00H1288Z" fill="#B2DFB8"/>
<path d="M1319,473.75H1329V497.80H1319ZM1319,513.00H1329V537.80H1319ZM1319,552.80H1329V576.75H1319ZM1319,593.20H1329V616.70H1319ZM1319,633.10H1329V656.80H1319Z" fill="#EBC466"/>
<path d="M1343,481.00H1353V504.50H1343ZM1343,521.00H1353V544.80H1343ZM1343,559.80H1353V583.80H1343ZM1343,600.10H1353V623.70H1343ZM1343,640.00H1353V655.50Q1353,659.50 1348.0,659.50Q1343,659.50 1343,655.50Z" fill="#EBC466"/>
<path d="M1589,394.00H1599V417.70H1589ZM1589,434.00H1599V457.50H1589ZM1589,474.00H1599V497.70H1589ZM1589,513.30H1599V537.60H1589ZM1589,553.10H1599V576.80H1589ZM1589,593.10H1599V616.80Q1599,620.80 1594.0,620.80Q1589,620.80 1589,616.80Z" fill="#EBC466"/>
</g>
<text transform="translate(88.82,1295.70) scale(0.9773,1.0670)" style="font-family:'Liberation Serif','Times New Roman',serif;font-weight:bold;font-size:68px" fill="#000">4000</text>
<text transform="translate(322.59,1295.70) scale(1.0046,1.0670)" style="font-family:'Liberation Serif','Times New Roman',serif;font-weight:bold;font-size:68px" fill="#000">3500</text>
<text transform="translate(560.29,1295.70) scale(1.0038,1.0670)" style="font-family:'Liberation Serif','Times New Roman',serif;font-weight:bold;font-size:68px" fill="#000">3000</text>
<text transform="translate(796.78,1295.70) scale(1.0062,1.0670)" style="font-family:'Liberation Serif','Times New Roman',serif;font-weight:bold;font-size:68px" fill="#000">2500</text>
<text transform="translate(1034.79,1295.70) scale(1.0031,1.0670)" style="font-family:'Liberation Serif','Times New Roman',serif;font-weight:bold;font-size:68px" fill="#000">2000</text>
<text transform="translate(1274.05,1295.70) scale(0.9906,1.0670)" style="font-family:'Liberation Serif','Times New Roman',serif;font-weight:bold;font-size:68px" fill="#000">1500</text>
<text transform="translate(1511.25,1295.70) scale(0.9891,1.0670)" style="font-family:'Liberation Serif','Times New Roman',serif;font-weight:bold;font-size:68px" fill="#000">1000</text>
<text transform="translate(1221.56,1389.00) scale(1.0676,1.0355)" style="font-family:'Liberation Serif','Times New Roman',serif;font-weight:bold;font-size:46px" fill="#000">-1</text>
<text transform="translate(1262.80,1419.00) scale(1.0000,0.9803)" style="font-family:'Liberation Serif','Times New Roman',serif;font-weight:bold;font-size:75px" fill="#000">)</text>
<text transform="translate(179.00,283.95) scale(1.0000,0.9750)" style="font-family:'Liberation Serif','Times New Roman',serif;font-weight:bold;font-size:62.5px" fill="#D53F4F">AL-g-PAMA</text>
<text transform="translate(163.99,554.81) scale(1.0076,0.9907)" style="font-family:'Liberation Serif','Times New Roman',serif;font-weight:bold;font-size:62.5px" fill="#FBB66A">MAPTAC</text>
<text transform="translate(164.97,718.00) scale(1.0297,1.0000)" style="font-family:'Liberation Serif','Times New Roman',serif;font-weight:bold;font-size:62.5px" fill="#4C5FAB">AM</text>
<text transform="translate(175.98,890.90) scale(1.0229,1.0000)" style="font-family:'Liberation Serif','Times New Roman',serif;font-weight:bold;font-size:62.5px" fill="#86CFA4">AL</text>
<text transform="translate(452.71,939.02) scale(0.9942,0.9814)" style="font-family:'Liberation Serif','Times New Roman',serif;font-weight:bold;font-size:62.5px" fill="#4C5FAB">3196</text>
<text transform="translate(615.00,1157.22) scale(1.0000,0.9837)" style="font-family:'Liberation Serif','Times New Roman',serif;font-weight:bold;font-size:62.5px" fill="#82BFA5">2935</text>
<text transform="translate(1215.78,740.73) scale(0.9937,0.9698)" style="font-family:'Liberation Serif','Times New Roman',serif;font-weight:bold;font-size:62.5px" fill="#FBB66A">1537</text>
<text transform="translate(1338.08,702.92) scale(0.9832,0.9767)" style="font-family:'Liberation Serif','Times New Roman',serif;font-weight:bold;font-size:62.5px" fill="#FBB66A">1484</text>
<text transform="translate(1546.02,695.92) scale(0.9889,0.9767)" style="font-family:'Liberation Serif','Times New Roman',serif;font-weight:bold;font-size:62.5px" fill="#FBB66A">967</text>
<text transform="translate(1212.53,956.90) scale(0.9932,1.0000)" style="font-family:'Liberation Serif','Times New Roman',serif;font-weight:bold;font-size:62.5px" fill="#4C5FAB">1672</text>
<text transform="scale(0.93,1)" x="682.12 763.59 800.86 840.23 875.63 920.94 962.52 1029.32 1069.90 1106.82 1141.23" y="1419.8" style="font-family:'Liberation Serif','Times New Roman',serif;font-weight:bold;font-size:75px" fill="#000">Wavenumbers</text>
<text transform="scale(0.95,1)" x="1164.26 1189.63 1224.32" y="1419.8" style="font-family:'Liberation Serif','Times New Roman',serif;font-weight:bold;font-size:75px" fill="#000">(cm</text>
<text transform="translate(75.8,0) rotate(-90) scale(0.93,1)" x="-977.13 -924.58 -891.25 -852.43 -809.74 -778.99 -713.94 -691.86 -666.59 -640.82 -601.78 -558.48 -524.29 -490.10 -467.46 -386.73" y="0" style="font-family:'Liberation Serif','Times New Roman',serif;font-weight:bold;font-size:74px" fill="#000">Transmittance(%)</text>
</svg>
</body></html>
